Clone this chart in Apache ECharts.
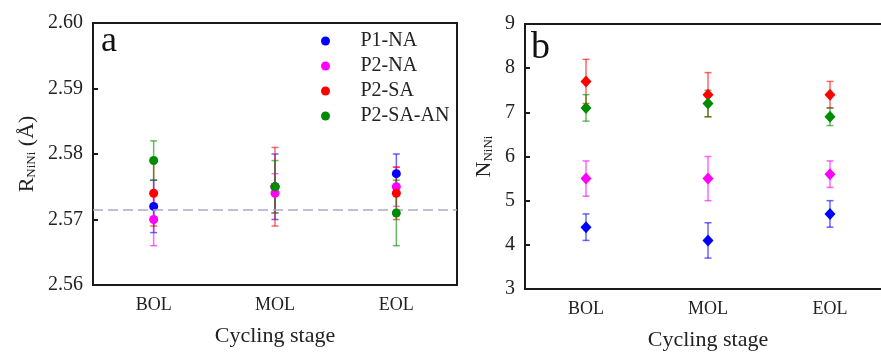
<!DOCTYPE html>
<html>
<head>
<meta charset="utf-8">
<script src="https://cdn.jsdelivr.net/npm/echarts@6/dist/echarts.min.js"></script>
<style>html,body{margin:0;padding:0;background:#fff;}#c{width:881px;height:353px;}</style>
</head>
<body>
<div id="c"></div>
<script>
// ---- data ----
var categories = ['BOL', 'MOL', 'EOL'];
var seriesNames = ['P1-NA', 'P2-NA', 'P2-SA', 'P2-SA-AN'];
var seriesColors = ['#0000ff', '#ff00ff', '#ff0000', '#008c00'];

// Panel a: R_NiNi (Å)
var rP1NA = [2.572, 2.575, 2.577];
var rP1NAErr = [0.004, 0.005, 0.003];
var rP2NA = [2.570, 2.574, 2.575];
var rP2NAErr = [0.004, 0.003, 0.003];
var rP2SA = [2.574, 2.575, 2.574];
var rP2SAErr = [0.005, 0.006, 0.004];
var rP2SAAN = [2.579, 2.575, 2.571];
var rP2SAANErr = [0.003, 0.004, 0.005];
var rRefLine = 2.5715;
var rTicks = [2.56, 2.57, 2.58, 2.59, 2.60];

// Panel b: N_NiNi
var nP1NA = [4.4, 4.1, 4.7];
var nP1NAErr = [0.3, 0.4, 0.3];
var nP2NA = [5.5, 5.5, 5.6];
var nP2NAErr = [0.4, 0.5, 0.3];
var nP2SA = [7.7, 7.4, 7.4];
var nP2SAErr = [0.5, 0.5, 0.3];
var nP2SAAN = [7.1, 7.2, 6.9];
var nP2SAANErr = [0.3, 0.3, 0.2];
var nTicks = [3, 4, 5, 6, 7, 8, 9];

var rVals = [rP1NA, rP2NA, rP2SA, rP2SAAN];
var rErrs = [rP1NAErr, rP2NAErr, rP2SAErr, rP2SAANErr];
var nVals = [nP1NA, nP2NA, nP2SA, nP2SAAN];
var nErrs = [nP1NAErr, nP2NAErr, nP2SAErr, nP2SAANErr];

var FONT = '"Liberation Serif", "Times New Roman", serif';
var AX = '#1a1a1a';

function errRender(color) {
  return function (params, api) {
    var x = api.value(0);
    var lo = api.coord([x, api.value(1)]);
    var hi = api.coord([x, api.value(2)]);
    var w = 3.5;
    var style = {stroke: color, lineWidth: 1.5, opacity: 0.6};
    return {
      type: 'group',
      children: [
        {type: 'line', shape: {x1: lo[0], y1: lo[1], x2: hi[0], y2: hi[1]}, style: style},
        {type: 'line', shape: {x1: lo[0] - w, y1: lo[1], x2: lo[0] + w, y2: lo[1]}, style: style},
        {type: 'line', shape: {x1: hi[0] - w, y1: hi[1], x2: hi[0] + w, y2: hi[1]}, style: style}
      ]
    };
  };
}

var series = [];
function addPanel(vals, errs, gi, symbol, size, withRef) {
  for (var s = 0; s < 4; s++) {
    var ed = [];
    for (var i = 0; i < categories.length; i++) {
      ed.push([i, vals[s][i] - errs[s][i], vals[s][i] + errs[s][i]]);
    }
    series.push({
      type: 'custom', name: 'err' + gi + s, xAxisIndex: gi, yAxisIndex: gi,
      renderItem: errRender(seriesColors[s]), data: ed, z: 2, silent: true,
      encode: {x: 0, y: [1, 2]}
    });
  }
  for (var s2 = 0; s2 < 4; s2++) {
    var sd = [];
    for (var j = 0; j < categories.length; j++) sd.push([j, vals[s2][j]]);
    var ser = {
      type: 'scatter', name: seriesNames[s2], xAxisIndex: gi, yAxisIndex: gi,
      symbol: symbol, symbolSize: size, data: sd, z: 3 + s2,
      itemStyle: {color: seriesColors[s2], opacity: 1}
    };
    if (withRef && s2 === 0) {
      ser.markLine = {
        silent: true, symbol: 'none', label: {show: false}, precision: 5,
        lineStyle: {color: '#aaaacc', type: [10, 5], width: 1.5},
        data: [{yAxis: rRefLine}]
      };
    }
    series.push(ser);
  }
}
addPanel(rVals, rErrs, 0, 'circle', 9, true);
addPanel(nVals, nErrs, 1, 'diamond', [11, 12], false);

function xAxis(gi) {
  return {
    type: 'category', gridIndex: gi, data: categories, boundaryGap: true,
    name: 'Cycling stage', nameLocation: 'middle', nameGap: 40,
    nameTextStyle: {fontFamily: FONT, fontSize: 22, color: '#222'},
    axisLine: {lineStyle: {color: AX, width: 2}},
    axisTick: {inside: true, alignWithLabel: true, length: 5, lineStyle: {color: AX, width: 2}},
    axisLabel: {fontFamily: FONT, fontSize: 18, color: '#222', margin: 11},
    splitLine: {show: false}
  };
}

var option = {
  animation: false,
  backgroundColor: '#fff',
  grid: [
    {left: 93, top: 23, width: 364, height: 262, show: true, borderColor: AX, borderWidth: 2,
     containLabel: false, outerBoundsMode: 'none'},
    {left: 525, top: 24, width: 366, height: 265, show: true, borderColor: AX, borderWidth: 2,
     containLabel: false, outerBoundsMode: 'none'}
  ],
  xAxis: [xAxis(0), xAxis(1)],
  yAxis: [
    {
      type: 'value', gridIndex: 0, min: rTicks[0], max: rTicks[rTicks.length - 1], interval: 0.01,
      name: '{m|R}{s|NiNi}{m| (Å)}', nameLocation: 'middle', nameGap: 55, nameRotate: 90,
      nameTextStyle: {
        fontFamily: FONT, color: '#222',
        rich: {
          m: {fontFamily: FONT, fontSize: 22, color: '#222', lineHeight: 26, verticalAlign: 'bottom'},
          s: {fontFamily: FONT, fontSize: 13, color: '#222', lineHeight: 26, verticalAlign: 'bottom'}
        }
      },
      axisLine: {show: true, lineStyle: {color: AX, width: 2}},
      axisTick: {show: true, inside: true, length: 5, lineStyle: {color: AX, width: 2}},
      axisLabel: {fontFamily: FONT, fontSize: 20, color: '#222', margin: 10,
        formatter: function (v) { return v.toFixed(2); }},
      splitLine: {show: false}
    },
    {
      type: 'value', gridIndex: 1, min: nTicks[0], max: nTicks[nTicks.length - 1], interval: 1,
      name: '{m|N}{s|NiNi}', nameLocation: 'middle', nameGap: 30, nameRotate: 90,
      nameTextStyle: {
        fontFamily: FONT, color: '#222',
        rich: {
          m: {fontFamily: FONT, fontSize: 22, color: '#222', lineHeight: 26, verticalAlign: 'bottom'},
          s: {fontFamily: FONT, fontSize: 13, color: '#222', lineHeight: 26, verticalAlign: 'bottom'}
        }
      },
      axisLine: {show: true, lineStyle: {color: AX, width: 2}},
      axisTick: {show: true, inside: true, length: 5, lineStyle: {color: AX, width: 2}},
      axisLabel: {fontFamily: FONT, fontSize: 20, color: '#222', margin: 10},
      splitLine: {show: false}
    }
  ],
  legend: {
    data: seriesNames, orient: 'vertical', left: 316, top: 26,
    icon: 'circle', itemWidth: 60, itemHeight: 9, itemGap: 5,
    textStyle: {fontFamily: FONT, fontSize: 20, color: '#222'},
    selectedMode: false
  },
  graphic: [
    {type: 'text', left: 101, top: 24, style: {text: 'a', font: '36px ' + FONT, fill: '#111'}},
    {type: 'text', left: 531, top: 29, style: {text: 'b', font: '38px ' + FONT, fill: '#111'}}
  ],
  series: series
};

var chart = echarts.init(document.getElementById('c'), null, {renderer: 'canvas'});
chart.setOption(option);
</script>
</body>
</html>
